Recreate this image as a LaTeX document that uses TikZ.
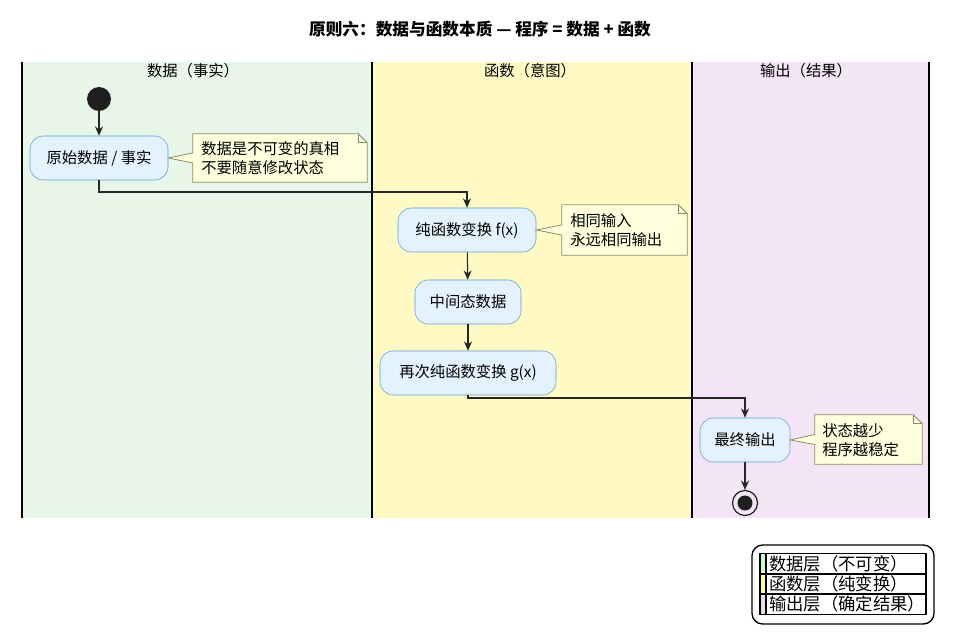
\documentclass[tikz,border=0pt]{standalone}
\usepackage{fontspec}
\setmainfont{Noto Sans CJK SC}
\usetikzlibrary{calc,arrows.meta}
\definecolor{laneA}{HTML}{E8F5E9}
\definecolor{laneB}{HTML}{FFF9C4}
\definecolor{laneC}{HTML}{F3E5F5}
\definecolor{actfill}{HTML}{E3F2FD}
\definecolor{actdraw}{HTML}{5B9BD5}
\definecolor{notefill}{HTML}{FEFFDD}
\definecolor{notedraw}{HTML}{8A8A6A}
\tikzset{
 act/.style={rectangle,rounded corners=10pt,draw=actdraw,fill=actfill,minimum height=44*0.75pt,inner sep=0,font=\fontsize{11.5}{13}\selectfont},
 notetxt/.style={align=left,inner sep=0,font=\fontsize{11.5}{14}\selectfont},
 flow/.style={draw=black!85,line width=0.8pt,-{Stealth[length=7pt,width=6pt]}},
 lane/.style={draw=black,line width=1pt},
 hdr/.style={font=\fontsize{11.5}{13}\selectfont},
}
\newcommand{\mynote}[2]{%
 \fill[notefill,draw=notedraw,line width=0.6pt] (#1.north west) -- ($(#1.north east)+(-9,0)$) -- ($(#1.north east)+(0,9)$) -- (#1.south east) -- (#1.south west) -- ($(#1.west)+(0,5)$) -- (#2.east) -- ($(#1.west)+(0,-5)$) -- cycle;
 \draw[notedraw,line width=0.6pt] ($(#1.north east)+(-9,0)$) -- ($(#1.north east)+(-9,9)$) -- ($(#1.north east)+(0,9)$);
}
\begin{document}
\begin{tikzpicture}[x=0.75pt,y=-0.75pt]
\useasboundingbox (0,0) rectangle (977,635);
\fill[white] (0,0) rectangle (977,635);
\node[font=\bfseries\fontsize{12.5}{14}\selectfont] (title) at (480,29) {原则六：数据与函数本质 — 程序 = 数据 + 函数};
% lanes
\fill[laneA] (22,62) rectangle (372,518);
\fill[laneB] (372,62) rectangle (692,518);
\fill[laneC] (692,62) rectangle (929,518);
\foreach \x in {22,372,692,929} \draw[lane] (\x,62) -- (\x,518);
\node[hdr] (h1) at (193,71) {数据（事实）};
\node[hdr] (h2) at (530,71) {函数（意图）};
\node[hdr] (h3) at (806,71) {输出（结果）};
% nodes
\node[circle,fill=black!88,minimum size=24*0.75pt,inner sep=0] (start) at (99,99) {};
\node[act,minimum width=138*0.75pt] (raw) at (99,158) {原始数据 / 事实};
\node[act,minimum width=138*0.75pt] (f) at (467,230) {纯函数变换 f(x)};
\node[act,minimum width=106*0.75pt] (mid) at (468,302) {中间态数据};
\node[act,minimum width=176*0.75pt] (g) at (468,373) {再次纯函数变换 g(x)};
\node[act,minimum width=90*0.75pt] (out) at (745,440) {最终输出};
\node[circle,draw=black!88,line width=0.9pt,minimum size=25*0.75pt,inner sep=0] (end) at (745,503) {};
\fill[black!88] (end) circle (7.5*0.75pt);
% notes
\node[minimum width=174*0.75pt,minimum height=48*0.75pt] (n1) at (280,158) {};
\mynote{n1}{raw}
\node[notetxt,anchor=west] (n1t) at (201,158) {数据是不可变的真相\\不要随意修改状态};
\node[minimum width=125*0.75pt,minimum height=50*0.75pt] (n2) at (624.5,230) {};
\mynote{n2}{f}
\node[notetxt,anchor=west] (n2t) at (570,230) {相同输入\\永远相同输出};
\node[minimum width=107*0.75pt,minimum height=49*0.75pt] (n3) at (868.5,439.5) {};
\mynote{n3}{out}
\node[notetxt,anchor=west] (n3t) at (822,440) {状态越少\\程序越稳定};
% flows
\draw[flow] (start) -- (raw);
\draw[flow] (raw.south) |- (467,192) -- (f.north);
\draw[flow] (f) -- (mid);
\draw[flow] (mid) -- (g);
\draw[flow] (g.south) |- (745,398) -- (out.north);
\draw[flow] (out) -- (end);
% legend
\draw[line width=1pt,rounded corners=8pt] (752,545) rectangle (934,624);
\node[draw,line width=0.8pt,minimum width=166*0.75pt,minimum height=61*0.75pt,inner sep=0] (leg) at (843,584) {};
\fill[laneA!70!green!60] (761,554) rectangle (765,574);
\fill[laneB!80!yellow] (761,574) rectangle (765,594);
\fill[laneC!70!violet!40] (761,594) rectangle (765,614);
\draw[line width=0.8pt] (766,554) -- (766,614) (760,574) -- (926,574) (760,594) -- (926,594);
\node[anchor=west,font=\fontsize{13}{14}\selectfont,inner sep=0] (l1) at (769,564) {数据层（不可变）};
\node[anchor=west,font=\fontsize{13}{14}\selectfont,inner sep=0] (l2) at (769,584) {函数层（纯变换）};
\node[anchor=west,font=\fontsize{13}{14}\selectfont,inner sep=0] (l3) at (769,604) {输出层（确定结果）};
\end{tikzpicture}
\end{document}
